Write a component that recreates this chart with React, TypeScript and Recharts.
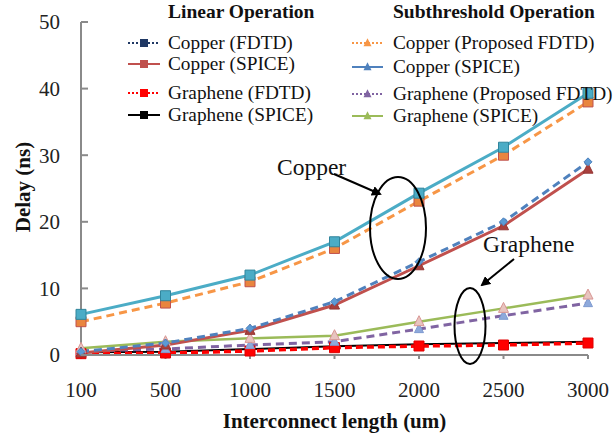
import React from "react";
import { LineChart, Line, XAxis, YAxis } from "recharts";

// interconnect length (um)
const lengths = ["100", "500", "1000", "1500", "2000", "2500", "3000"];

// linear operation (ns)
const cuLinFdtd = [0.5, 1.8, 4.0, 8.0, 14.0, 20.0, 29.0];
const cuLinSpice = [0.3, 1.5, 3.7, 7.5, 13.4, 19.4, 27.9];
const grLinFdtd = [0.2, 0.3, 0.6, 1.1, 1.35, 1.5, 1.8];
const grLinSpice = [0.4, 0.5, 0.9, 1.3, 1.6, 1.8, 2.0];

// subthreshold operation (ns)
const cuSubFdtd = [5.0, 7.8, 11.0, 16.0, 23.1, 30.0, 38.0];
const cuSubSpice = [6.1, 8.9, 12.0, 17.0, 24.3, 31.2, 39.3];
const grSubFdtd = [0.6, 0.9, 1.5, 2.0, 3.9, 5.9, 7.8];
const grSubSpice = [1.0, 2.0, 2.5, 2.9, 5.0, 7.0, 9.0];

const yTicks = [0, 10, 20, 30, 40, 50];

const rows = lengths.map((len, i) => ({
  len,
  cuLinFdtd: cuLinFdtd[i],
  cuLinSpice: cuLinSpice[i],
  grLinFdtd: grLinFdtd[i],
  grLinSpice: grLinSpice[i],
  cuSubFdtd: cuSubFdtd[i],
  cuSubSpice: cuSubSpice[i],
  grSubFdtd: grSubFdtd[i],
  grSubSpice: grSubSpice[i],
}));

const FONT = '"Liberation Serif", "Times New Roman", serif';
const AXIS = "#8a8a8a";

type Shape = "square" | "triangle" | "diamond";

const markerPath = (shape: Shape, cx: number, cy: number, s: number) => {
  if (shape === "triangle")
    return `M${cx},${cy - s * 0.6}L${cx + s / 2},${cy + s * 0.4}L${cx - s / 2},${cy + s * 0.4}Z`;
  if (shape === "diamond")
    return `M${cx},${cy - s / 2}L${cx + s / 2},${cy}L${cx},${cy + s / 2}L${cx - s / 2},${cy}Z`;
  return `M${cx - s / 2},${cy - s / 2}h${s}v${s}h${-s}Z`;
};

const makeDot = (shape: Shape, fill: string, stroke: string, size: number) => (p: any) => {
  if (p.cx == null || p.cy == null) return <g key={p.index} />;
  return (
    <path key={p.index} d={markerPath(shape, p.cx, p.cy, size)} fill={fill} stroke={stroke} strokeWidth={1} />
  );
};

// drawing order: bottom first
const series = [
  { key: "grLinSpice", color: "#000000", width: 2, dash: undefined, dot: makeDot("square", "#000", "#000", 4) },
  { key: "grLinFdtd", color: "#ff0000", width: 3.5, dash: "7 4", dot: makeDot("square", "#ff0000", "#e00000", 10) },
  { key: "grSubFdtd", color: "#8064a2", width: 3, dash: "8 5", dot: makeDot("triangle", "#8ea9db", "#7f9bd0", 9) },
  { key: "grSubSpice", color: "#9bbb59", width: 2.5, dash: undefined, dot: makeDot("triangle", "#e8c4bf", "#d99694", 10) },
  { key: "cuLinSpice", color: "#c0504d", width: 3, dash: undefined, dot: makeDot("triangle", "#a9403d", "#943634", 10) },
  { key: "cuLinFdtd", color: "#4f81bd", width: 3, dash: "8 5", dot: makeDot("diamond", "#5b9bd5", "#4f81bd", 8) },
  { key: "cuSubFdtd", color: "#f79646", width: 3, dash: "8 5", dot: makeDot("square", "#e9853e", "#c0504d", 10) },
  { key: "cuSubSpice", color: "#4bacc6", width: 3, dash: undefined, dot: makeDot("square", "#4bacc6", "#31859c", 10) },
];

const legendLeft = [
  { label: "Copper (FDTD)", color: "#1f3864", dash: "2 2", shape: "square" as Shape, y: 49 },
  { label: "Copper (SPICE)", color: "#c0504d", dash: undefined, shape: "square" as Shape, y: 70 },
  { label: "Graphene (FDTD)", color: "#ff0000", dash: "2 2", shape: "square" as Shape, y: 99 },
  { label: "Graphene (SPICE)", color: "#000000", dash: undefined, shape: "square" as Shape, y: 121 },
];
const legendRight = [
  { label: "Copper (Proposed FDTD)", color: "#f79646", dash: "2 2", shape: "triangle" as Shape, y: 49 },
  { label: "Copper (SPICE)", color: "#4f81bd", dash: undefined, shape: "triangle" as Shape, y: 73 },
  { label: "Graphene (Proposed FDTD)", color: "#8064a2", dash: "2 2", shape: "triangle" as Shape, y: 100 },
  { label: "Graphene (SPICE)", color: "#9bbb59", dash: undefined, shape: "triangle" as Shape, y: 122 },
];

const YTick = (p: any) => {
  const { x, y, payload } = p;
  return (
    <g>
      <line x1={x + 21} x2={x + 28} y1={y} y2={y} stroke={AXIS} strokeWidth={2} />
      <text x={x} y={y} dy="0.355em" textAnchor="end" fontSize={21} fontFamily={FONT} fill="#222">
        {payload.value}
      </text>
    </g>
  );
};

const LegendItem = ({ item, x0, x1, tx }: any) => {
  const ly = item.y - 6;
  const mx = (x0 + x1) / 2;
  return (
    <g>
      <line x1={x0} x2={x1} y1={ly} y2={ly} stroke={item.color} strokeWidth={2} strokeDasharray={item.dash} />
      <path d={markerPath(item.shape, mx, ly, 8)} fill={item.color} />
      <text x={tx} y={item.y} fontSize={19.3} fontFamily={FONT} fill="#111">
        {item.label}
      </text>
    </g>
  );
};

export default function App() {
  return (
    <div style={{ position: "absolute", left: 0, top: 0, width: 615, height: 436, background: "#fff" }}>
      <LineChart width={615} height={436} data={rows} margin={{ top: 22, right: 27, bottom: 0, left: 0 }}>
        <XAxis
          dataKey="len"
          height={81}
          axisLine={{ stroke: AXIS, strokeWidth: 2 }}
          tickLine={{ stroke: AXIS, strokeWidth: 2 }}
          tickSize={4}
          tickMargin={23}
          tick={{ fontSize: 21, fontFamily: FONT, fill: "#222" }}
          label={{
            value: "Interconnect length (um)",
            position: "insideBottom",
            offset: 8,
            style: { fontSize: 21, fontWeight: "bold", fontFamily: FONT, fill: "#111" },
          }}
        />
        <YAxis
          width={81}
          domain={[0, 50]}
          ticks={yTicks}
          axisLine={{ stroke: AXIS, strokeWidth: 2 }}
          tickLine={false}
          tickSize={0}
          tickMargin={21}
          tick={<YTick />}
        />
        {series.map((s) => (
          <Line
            key={s.key}
            dataKey={s.key}
            type="linear"
            stroke={s.color}
            strokeWidth={s.width}
            strokeDasharray={s.dash}
            dot={s.dot}
            activeDot={false}
            isAnimationActive={false}
          />
        ))}
      </LineChart>
      <svg width={615} height={436} style={{ position: "absolute", left: 0, top: 0, pointerEvents: "none" }}>
        <defs>
          <marker id="arrowHead" markerWidth="10" markerHeight="10" refX="8" refY="5" orient="auto" markerUnits="userSpaceOnUse">
            <path d="M0,0L10,5L0,10Z" fill="#000" />
          </marker>
        </defs>
        <text x={30} y={187} transform="rotate(-90 30 187)" textAnchor="middle" fontSize={21} fontWeight="bold" fontFamily={FONT} fill="#111">
          Delay (ns)
        </text>
        <text x={168} y={18} fontSize={19.5} fontWeight="bold" fontFamily={FONT} fill="#111">Linear Operation</text>
        <text x={393} y={18} fontSize={19.5} fontWeight="bold" fontFamily={FONT} fill="#111">Subthreshold Operation</text>
        {legendLeft.map((it) => (
          <LegendItem key={"l" + it.label} item={it} x0={128} x1={160} tx={168} />
        ))}
        {legendRight.map((it) => (
          <LegendItem key={"r" + it.label} item={it} x0={352} x1={383} tx={393} />
        ))}
        <text x={277} y={175} fontSize={23.5} fontFamily={FONT} fill="#111">Copper</text>
        <line x1={334} y1={174} x2={380} y2={194} stroke="#000" strokeWidth={2} markerEnd="url(#arrowHead)" />
        <ellipse cx={398} cy={228} rx={28} ry={51} fill="none" stroke="#000" strokeWidth={2} />
        <text x={483} y={252} fontSize={23.5} fontFamily={FONT} fill="#111">Graphene</text>
        <line x1={514} y1={259} x2={482} y2={285} stroke="#000" strokeWidth={2} markerEnd="url(#arrowHead)" />
        <ellipse cx={470} cy={326} rx={15.5} ry={38} fill="none" stroke="#000" strokeWidth={2} />
      </svg>
    </div>
  );
}
